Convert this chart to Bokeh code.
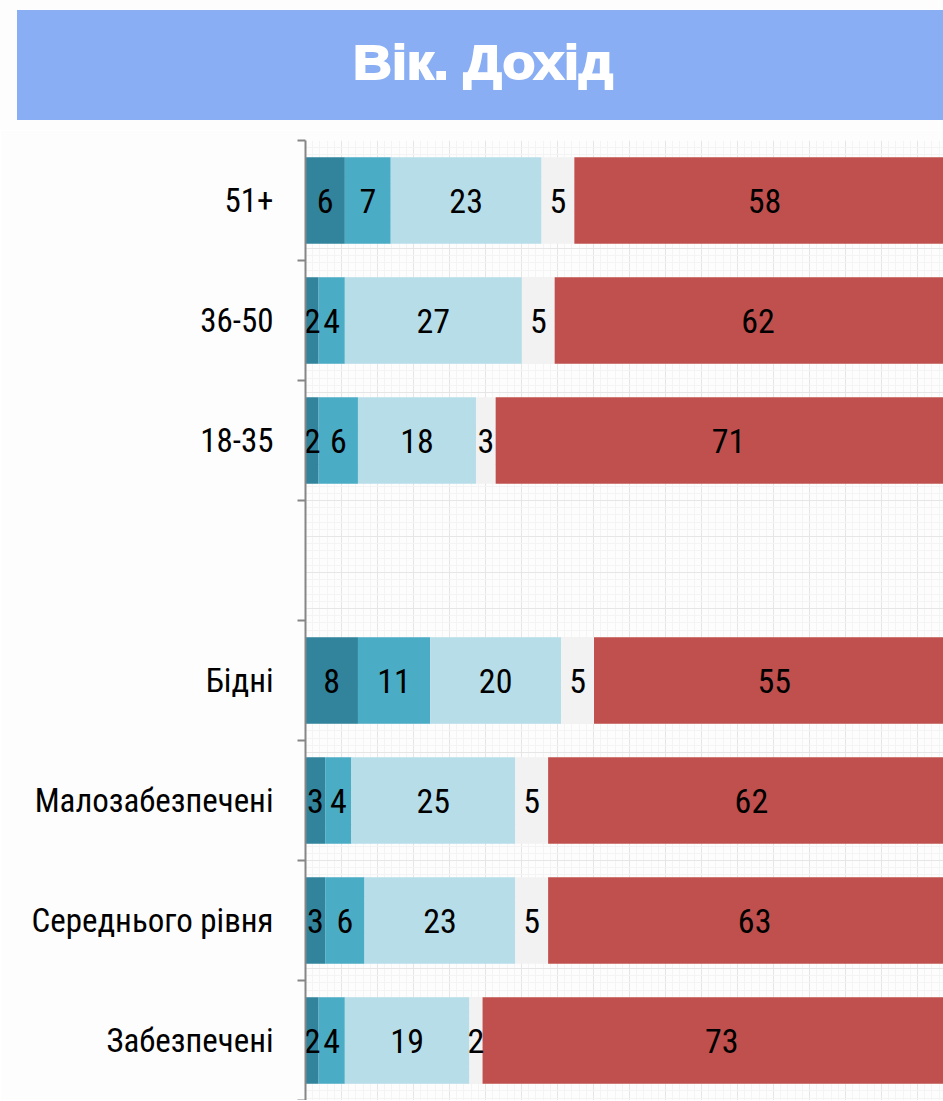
from bokeh.plotting import figure
from bokeh.models import Range1d, FixedTicker, SingleIntervalTicker, ColumnDataSource, Div
from bokeh.layouts import column
from bokeh.embed import file_html
from bokeh.resources import INLINE
from bokeh.core.properties import value

title_text = "Вік. Дохід"
categories = ["51+", "36-50", "18-35", "", "Бідні", "Малозабезпечені", "Середнього рівня", "Забезпечені"]
series_1 = [6, 2, 2, 0, 8, 3, 3, 2]
series_2 = [7, 4, 6, 0, 11, 4, 6, 4]
series_3 = [23, 27, 18, 0, 20, 25, 23, 19]
series_4 = [5, 5, 3, 0, 5, 5, 5, 2]
series_5 = [58, 62, 71, 0, 55, 62, 63, 73]
colors = ["#31849B", "#4BACC6", "#B7DEE8", "#F2F2F2", "#C0504D"]

FONT = "Roboto Condensed"
PAPER = "#fdfdfd"
W = 943

# ---- banner ----
banner = Div(
    text=('<div style="margin:10px 0 0 17px;width:926px;height:110px;background:#89AEF3;'
          'display:flex;align-items:center;justify-content:center;">'
          '<span style="display:inline-block;color:white;font-family:\'Liberation Sans\';'
          'font-weight:bold;font-size:48px;-webkit-text-stroke:1.8px white;'
          'transform:translate(3px,-2px) scaleX(1.12);">' + title_text + '</span></div>'),
    width=W, height=130, margin=0, styles={"background-color": PAPER})

# ---- main chart ----
rows = [i for i, c in enumerate(categories) if c]
ys = [i + 0.5 for i in rows]
all_series = [series_1, series_2, series_3, series_4, series_5]
keys = ["s1", "s2", "s3", "s4", "s5"]
data = {"y": ys}
for k, s in zip(keys, all_series):
    data[k] = [s[i] for i in rows]
src = ColumnDataSource(data)

p = figure(width=W, height=970, x_range=Range1d(0, 97.3), y_range=Range1d(8, 0),
           output_backend="svg", toolbar_location=None, x_axis_location=None,
           min_border_left=305, min_border_right=0, min_border_top=10, min_border_bottom=0)
p.background_fill_color = PAPER
p.border_fill_color = PAPER
p.outline_line_color = None

p.hbar_stack(keys, y="y", height=0.72, fill_color=colors, line_color=None, source=src)

lx, ly, lt = [], [], []
for i in rows:
    left = 0
    for s in all_series:
        v = s[i]
        lx.append(left + v / 2)
        ly.append(i + 0.5)
        lt.append(str(v))
        left += v
p.text(x="x", y="y", text="t", source=ColumnDataSource(dict(x=lx, y=ly, t=lt)),
       text_align="center", text_baseline="middle", text_font=value(FONT),
       text_font_size="34px", text_color="black")

ax = p.yaxis[0]
ax.ticker = FixedTicker(ticks=ys, minor_ticks=[float(i) for i in range(9)])
ax.major_label_overrides = {y: categories[i] for y, i in zip(ys, rows)}
ax.major_tick_out = 0
ax.major_tick_in = 0
ax.minor_tick_out = 8
ax.minor_tick_in = 0
ax.axis_line_color = "#868686"
ax.axis_line_width = 2
ax.minor_tick_line_color = "#868686"
ax.minor_tick_line_width = 2
ax.major_label_standoff = 24
ax.major_label_text_font = FONT
ax.major_label_text_font_size = "33px"
ax.major_label_text_color = "black"

p.xgrid.ticker = SingleIntervalTicker(interval=5.49, num_minor_ticks=5)
p.ygrid.ticker = SingleIntervalTicker(interval=0.3, num_minor_ticks=5)
for g in (p.xgrid[0], p.ygrid[0]):
    g.grid_line_color = "#e6e6e6"
    g.grid_line_width = 1
    g.minor_grid_line_color = "#f4f4f4"
    g.minor_grid_line_width = 1
    g.level = "underlay"

layout = column(banner, p, spacing=0)
open("out.html", "w").write(file_html(layout, INLINE))
